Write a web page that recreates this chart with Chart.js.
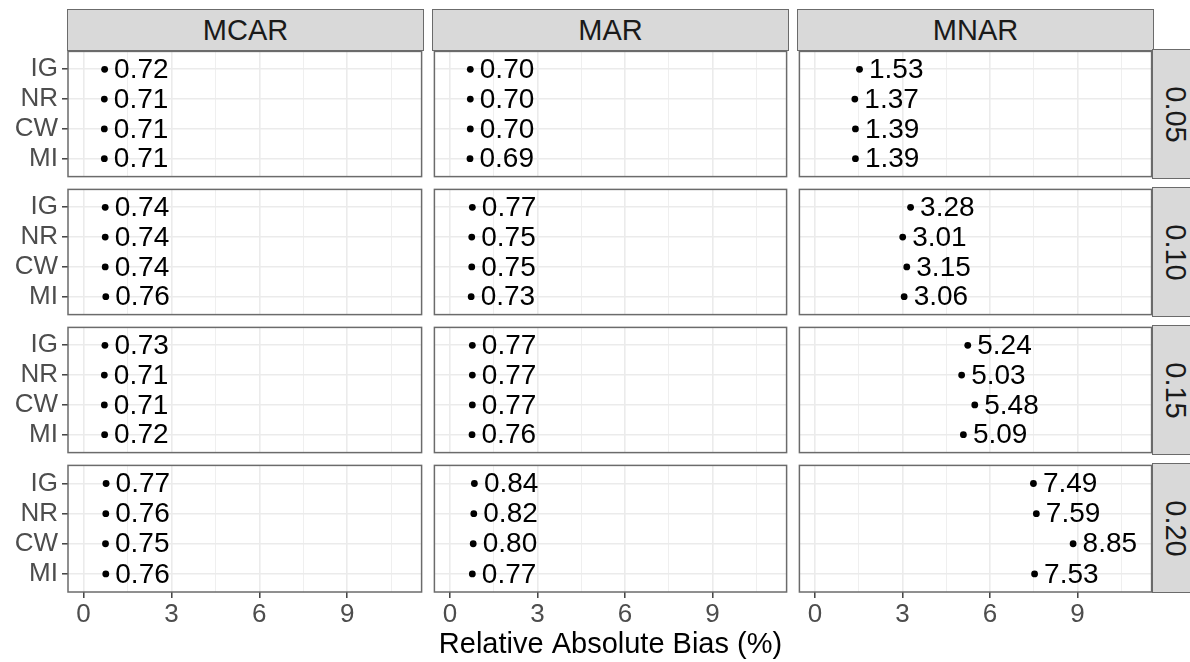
<!DOCTYPE html>
<html><head><meta charset="utf-8">
<script src="https://cdn.jsdelivr.net/npm/chart.js@4.4.1/dist/chart.umd.min.js"></script>
<style>
html,body{margin:0;padding:0;background:#fff;}
#wrap{position:relative;width:1190px;height:662px;overflow:hidden;font-family:"Liberation Sans",Arial,sans-serif;}
#wrap canvas{position:absolute;}
.strip{position:absolute;background:#D9D9D9;border:1.5px solid #6b6b6b;box-sizing:border-box;display:flex;align-items:center;justify-content:center;color:#1a1a1a;font-size:29px;line-height:1;}
.strip.v span{display:inline-block;transform:rotate(90deg);white-space:nowrap;}
</style></head><body><div id="wrap"></div>
<script>
// ---- data ----
const methods = ['IG', 'NR', 'CW', 'MI'];
const mechanisms = ['MCAR', 'MAR', 'MNAR'];
const rates = ['0.05', '0.10', '0.15', '0.20'];
const xTicks = [0, 3, 6, 9];
const xMinorTicks = [1.5, 4.5, 7.5, 10.5];
const axisTitle = 'Relative Absolute Bias (%)';

const mcar05 = [0.72, 0.71, 0.71, 0.71];
const mcar10 = [0.74, 0.74, 0.74, 0.76];
const mcar15 = [0.73, 0.71, 0.71, 0.72];
const mcar20 = [0.77, 0.76, 0.75, 0.76];
const mar05 = [0.70, 0.70, 0.70, 0.69];
const mar10 = [0.77, 0.75, 0.75, 0.73];
const mar15 = [0.77, 0.77, 0.77, 0.76];
const mar20 = [0.84, 0.82, 0.80, 0.77];
const mnar05 = [1.53, 1.37, 1.39, 1.39];
const mnar10 = [3.28, 3.01, 3.15, 3.06];
const mnar15 = [5.24, 5.03, 5.48, 5.09];
const mnar20 = [7.49, 7.59, 8.85, 7.53];

const panels = [
  [mcar05, mar05, mnar05],
  [mcar10, mar10, mnar10],
  [mcar15, mar15, mnar15],
  [mcar20, mar20, mnar20]
];

// ---- layout ----
const FONT = '"Liberation Sans", Arial, sans-serif';
Chart.defaults.font.family = FONT;
const colX = [68, 433, 798];
const rowY = [50, 188, 326, 464];
const W = 355, H = 128;
const YAXIS_W = 68, XAXIS_H = 70, P = 2;
const XMIN = -0.53, XMAX = 11.54;
const wrap = document.getElementById('wrap');

function addStrip(text, left, top, width, height, vertical) {
  const d = document.createElement('div');
  d.className = 'strip' + (vertical ? ' v' : '');
  d.style.left = left + 'px'; d.style.top = top + 'px';
  d.style.width = width + 'px'; d.style.height = height + 'px';
  const s = document.createElement('span'); s.textContent = text;
  d.appendChild(s); wrap.appendChild(d);
}
mechanisms.forEach((m, c) => addStrip(m, colX[c] - 0.75, 9, W + 1.5, 42, false));
rates.forEach((r, i) => addStrip(r, colX[2] + W - 0.75, rowY[i] - 0.75, 45, H + 1.5, true));

const labelPlugin = {
  id: 'valueLabels',
  afterDatasetsDraw(chart) {
    const ctx = chart.ctx;
    const meta = chart.getDatasetMeta(0);
    const vals = chart.data.datasets[0].data;
    ctx.save();
    ctx.fillStyle = '#000';
    ctx.font = '28px ' + FONT;
    ctx.textAlign = 'left';
    ctx.textBaseline = 'middle';
    meta.data.forEach((el, i) => {
      ctx.fillText(vals[i].x.toFixed(2), el.x + 9.5, el.y + 1);
    });
    ctx.restore();
  }
};
const borderPlugin = {
  id: 'panelBorder',
  afterDraw(chart) {
    const a = chart.chartArea, ctx = chart.ctx;
    ctx.save();
    ctx.strokeStyle = '#6b6b6b';
    ctx.lineWidth = 1.5;
    ctx.strokeRect(a.left, a.top, a.right - a.left, a.bottom - a.top);
    ctx.restore();
  }
};

function makeChart(r, c) {
  const vals = panels[r][c];
  const showY = c === 0, showX = r === 3;
  const left = showY ? 0 : colX[c] - P;
  const top = rowY[r] - P;
  const width = (showY ? YAXIS_W : P) + W + P;
  const height = P + H + (showX ? XAXIS_H : P);
  const cv = document.createElement('canvas');
  cv.width = width; cv.height = height;
  cv.style.left = left + 'px'; cv.style.top = top + 'px';
  cv.style.width = width + 'px'; cv.style.height = height + 'px';
  wrap.appendChild(cv);
  const isMajor = v => xTicks.includes(v);
  new Chart(cv, {
    type: 'scatter',
    data: { datasets: [{
      data: vals.map((v, i) => ({ x: v, y: i + 1 })),
      pointRadius: 3.4, pointHoverRadius: 3.4,
      backgroundColor: '#000', borderWidth: 0
    }] },
    options: {
      responsive: false, animation: false, events: [],
      devicePixelRatio: 1,
      layout: { padding: { left: showY ? 0 : P, right: P, top: P, bottom: showX ? 0 : P } },
      plugins: { legend: { display: false }, tooltip: { enabled: false } },
      scales: {
        x: {
          type: 'linear', min: XMIN, max: XMAX,
          afterBuildTicks: s => { s.ticks = xTicks.concat(xMinorTicks).sort((a, b) => a - b).map(v => ({ value: v })); },
          afterFit: s => { s.height = showX ? XAXIS_H : 0; s.paddingLeft = 0; s.paddingRight = 0; },
          border: { display: false },
          grid: {
            color: '#EBEBEB',
            lineWidth: ctx => (ctx.tick && isMajor(ctx.tick.value)) ? 1.6 : 0.8,
            drawTicks: showX, tickLength: 6,
            tickColor: ctx => (ctx.tick && isMajor(ctx.tick.value)) ? '#333333' : 'rgba(0,0,0,0)',
            tickWidth: 1.4
          },
          ticks: {
            display: showX, autoSkip: false, maxRotation: 0, padding: 1,
            color: '#4D4D4D', font: { size: 26 },
            callback: v => isMajor(v) ? String(v) : ''
          },
          title: { display: showX && c === 1, text: axisTitle, color: '#000', font: { size: 29 }, padding: 0 }
        },
        y: {
          type: 'linear', reverse: true, min: 0.4, max: 4.6,
          afterBuildTicks: s => { s.ticks = methods.map((m, i) => ({ value: i + 1 })); },
          afterFit: s => { s.width = showY ? YAXIS_W : 0; s.paddingTop = 0; s.paddingBottom = 0; },
          border: { display: false },
          grid: {
            color: '#EBEBEB', lineWidth: 1.6,
            drawTicks: showY, tickLength: 6, tickColor: '#333333', tickWidth: 1.4
          },
          ticks: {
            display: showY, autoSkip: false, padding: 4,
            color: '#4D4D4D', font: { size: 26 },
            callback: v => methods[v - 1] || ''
          }
        }
      }
    },
    plugins: [labelPlugin, borderPlugin]
  });
}

for (let r = 0; r < rates.length; r++) {
  for (let c = 0; c < mechanisms.length; c++) makeChart(r, c);
}
</script>
</body></html>
